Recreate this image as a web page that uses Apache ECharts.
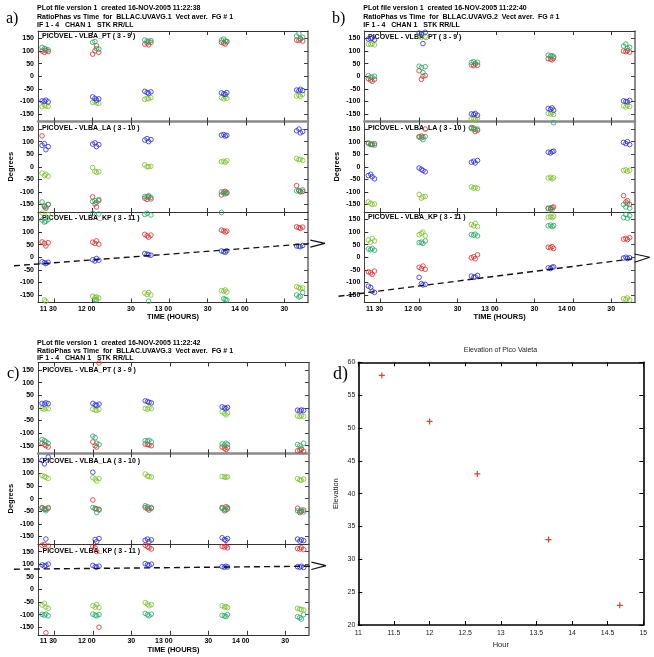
<!DOCTYPE html>
<html><head><meta charset="utf-8">
<script src="https://cdn.jsdelivr.net/npm/echarts@6/dist/echarts.min.js"></script>
<style>html,body{margin:0;padding:0;background:#fff}#c{width:654px;height:657px}</style>
</head><body><div id="c"></div><script>
// ---------------- DATA ----------------
const timeTicks = [11.5, 12, 12.5, 13, 13.5, 14, 14.5];
const timeTickLabels = ['11 30', '12 00', '30', '13 00', '30', '14 00', '30'];
const phaseTicks = [-150, -100, -50, 0, 50, 100, 150];
const baselineNames = ['PICOVEL - VLBA_PT ( 3 - 9 )', 'PICOVEL - VLBA_LA ( 3 - 10 )', 'PICOVEL - VLBA_KP ( 3 - 11 )'];
const headerA = ['PLot file version 1  created 16-NOV-2005 11:22:38', 'RatioPhas vs Time  for  BLLAC.UVAVG.1  Vect aver.  FG # 1', 'IF 1 - 4   CHAN 1   STK RR/LL'];
const headerB = ['PLot file version 1  created 16-NOV-2005 11:22:40', 'RatioPhas vs Time  for  BLLAC.UVAVG.2  Vect aver.  FG # 1', 'IF 1 - 4   CHAN 1   STK RR/LL'];
const headerC = ['PLot file version 1  created 16-NOV-2005 11:22:42', 'RatioPhas vs Time  for  BLLAC.UVAVG.3  Vect aver.  FG # 1', 'IF 1 - 4   CHAN 1   STK RR/LL'];

// sample times (hours) of the points in each of the five scans
const sampleTimes = [
  [11.34, 11.37, 11.39, 11.42],
  [12.00, 12.03, 12.05, 12.08],
  [12.68, 12.71, 12.73, 12.76],
  [13.68, 13.71, 13.73, 13.75],
  [14.66, 14.69, 14.71, 14.74]
];

// Panel a
const aPT_red  = [[100,95,102,98],[88,101,121,95],[128,132,125,135],[135,132,128,138],[144,142,148,140]];
const aPT_blue = [[-98,-100,-95,-102],[-82,-88,-95,-90],[-60,-65,-68,-62],[-66,-70,-72,-65],[-55,-58,-52,-57]];
const aPT_teal = [[115,110,108,105],[135,138,110,108],[144,140,138,142],[144,148,140,138],[160,170,150,155]];
const aPT_lg   = [[-121,-115,-118,-120],[-104,-100,-106,-108],[-92,-88,-90,-85],[-85,-90,-82,-88],[-78,-75,-80,-72]];
const aLA_red  = [[123,-158,-165,-150],[-120,-148,-160,-135],[-125,-130,-120,-128],[-112,-100,-98,-105],[-75,-95,-100,-98]];
const aLA_blue = [[85,92,68,80],[90,95,80,88],[106,112,100,108],[126,128,122,125],[143,150,135,140]];
const aLA_teal = [[-140,-155,-160,-150],[-138,-135,-142,-130],[-118,-120,-115,-122],[-100,-105,-108,-102],[-96,-94,-98,-92]];
const aLA_lg   = [[-25,-35,-30,-38],[-3,-18,-22,-20],[8,0,0,2],[20,22,18,24],[33,28,30,25]];
const aKP_red  = [[61,55,45,58],[60,55,65,52],[91,85,80,88],[108,105,100,104],[121,118,115,120]];
const aKP_blue = [[-18,-22,-25,-20],[-10,-15,-5,-12],[15,12,10,8],[25,22,20,26],[45,44,42,47]];
const aKP_teal = [[148,140,143,150],[175,-168,-170,172],[170,175,-175,168],[178,-165,-168,-170],[-150,-158,-155,-140]];
const aKP_lg   = [[176,-170,-175,170],[-155,-160,-158,-162],[-142,-148,-140,-150],[-133,-135,-130,-138],[-117,-120,-125,-122]];
// Panel b
const bPT_red  = [[-10,-15,-20,-12],[22,-12,0,3],[45,42,48,44],[70,68,65,72],[100,98,102,96]];
const bPT_blue = [[148,150,152,145],[172,168,130,175],[-150,-152,-148,-155],[-128,-132,-126,-135],[-98,-100,-102,-96]];
const bPT_teal = [[2,-3,-5,0],[40,35,15,38],[55,58,52,56],[84,80,82,78],[120,128,110,115]];
const bPT_lg   = [[128,126,130,125],[160,155,165,158],[-170,-168,-172,-166],[-148,-150,-145,-152],[-118,-122,-115,-120]];
const bLA_red  = [[93,90,88,92],[120,122,118,150],[156,150,140,145],[-165,-168,-162,-160],[-115,-140,-135,-150]];
const bLA_blue = [[-35,-30,-40,-48],[-5,-10,-15,-20],[18,22,15,25],[58,55,60,62],[97,92,100,88]];
const bLA_teal = [[95,88,90,86],[118,115,108,120],[152,155,148,150],[-166,-164,-170,175],[-150,-160,-145,-165]];
const bLA_lg   = [[-140,-145,-150,-148],[-110,-125,-120,-118],[-80,-85,-82,-86],[-45,-42,-48,-44],[-15,-12,-18,-14]];
const bKP_red  = [[-58,-62,-68,-55],[-40,-45,-35,-48],[-2,2,-6,10],[40,38,42,35],[72,75,70,78]];
const bKP_blue = [[-115,-120,-135,-140],[-80,-105,-110,-108],[-75,-80,-78,-72],[-42,-45,-40,-38],[-3,0,-5,-2]];
const bKP_teal = [[33,30,35,28],[58,60,55,65],[90,88,92,85],[125,128,122,126],[158,170,155,165]];
const bKP_lg   = [[69,60,75,65],[90,95,100,85],[130,125,135,122],[160,162,158,163],[-165,-168,-162,-170]];
// Panel c
const cPT_red  = [[-140,-145,-150,-155],[-135,-150,-155,178],[-143,-145,-147,-150],[-155,-160,-165,-158],[-170,-168,-165,-172]];
const cPT_blue = [[18,15,20,17],[18,12,10,15],[28,25,22,20],[4,0,-3,2],[-9,-12,-8,-10]];
const cPT_teal = [[-125,-130,-135,-140],[-112,-118,-140,-145],[-130,-132,-128,-135],[-143,-148,-140,-145],[-145,-150,-160,-140]];
const cPT_lg   = [[-2,-5,0,-3],[-5,-8,-10,-6],[-2,-5,0,-3],[-15,-22,-28,-20],[-32,-35,-30,-33]];
const cLA_red  = [[-35,-40,-42,-38],[-5,-38,-40,-42],[-35,-40,-45,-38],[-35,-48,-32,-40],[-38,-55,-50,-45]];
const cLA_blue = [[152,138,-160,165],[105,-162,-170,-158],[-165,-160,-170,-163],[-155,-162,-165,-158],[-160,-168,-163,-166]];
const cLA_teal = [[-38,-42,-48,-35],[-35,-40,-55,-45],[-28,-32,-38,-35],[-38,-42,-45,-35],[-48,-50,-45,-52]];
const cLA_lg   = [[92,88,85,80],[83,78,70,80],[98,90,88,86],[88,86,85,87],[80,75,73,78]];
const cKP_red  = [[175,178,-172,172],[170,165,150,-150],[175,170,165,160],[170,168,172,165],[162,160,165,158]];
const cKP_blue = [[97,92,95,100],[95,90,88,92],[102,98,95,100],[90,88,92,89],[90,88,92,87]];
const cKP_teal = [[-99,-102,-98,-105],[-98,-102,-105,-100],[-95,-100,-105,-98],[-103,-105,-108,-100],[-108,-112,-118,-100]];
const cKP_lg   = [[-62,-55,-70,-75],[-65,-70,-60,-72],[-52,-58,-65,-60],[-65,-70,-68,-72],[-75,-78,-80,-82]];

// hand-drawn dashed arrows (hours, degrees) on the KP panels
const arrowA = [[10.974, -34], [14.82, 54]];
const headA  = [[14.84, 68], [15.03, 55], [14.84, 40]];
const arrowB = [[10.952, -155], [14.82, -6]];
const headB  = [[14.84, 13], [15.04, 0], [14.84, -20]];
const arrowC = [[10.974, 80], [14.82, 92]];
const headC  = [[14.84, 108], [15.03, 94], [14.84, 79]];

// Panel d
const elevHours = [11.33, 12.0, 12.67, 13.67, 14.67];
const elevValues = [58, 51, 43, 33, 23];

// ---------------- LAYOUT / STYLE ----------------
const HOUR_MIN = 11.287, HOUR_MAX = 14.809;
const FONT = '"Liberation Sans", Arial, sans-serif';
const COL = { red: '#e02a2a', blue: '#2a2ae6', teal: '#22a866', lg: '#7cc22a' };
const layout = {
  a: { left: 38, width: 270, tops: [31, 121.5, 212], h: 90.5, labelX: 42, labelY: [35.7, 128.3, 218.3],
       hdr: headerA, hdrX: 37, hdrY: [8.3, 16.6, 24.8], letter: 'a)', letterX: 6, letterY: 19, letterSize: 16,
       phases: [[aPT_red, aPT_teal, aPT_lg, aPT_blue], [aLA_red, aLA_teal, aLA_lg, aLA_blue], [aKP_red, aKP_teal, aKP_lg, aKP_blue]],
       arrow: arrowA, head: headA },
  b: { left: 364.3, width: 270.7, tops: [31, 121.5, 212], h: 90.5, labelX: 368, labelY: [36.7, 128.3, 217.3],
       hdr: headerB, hdrX: 363.3, hdrY: [8.3, 16.6, 24.8], letter: 'b)', letterX: 332, letterY: 18.5, letterSize: 16,
       phases: [[bPT_red, bPT_teal, bPT_lg, bPT_blue], [bLA_red, bLA_teal, bLA_lg, bLA_blue], [bKP_red, bKP_teal, bKP_lg, bKP_blue]],
       arrow: arrowB, head: headB },
  c: { left: 38, width: 271, tops: [362.5, 453.3, 544], h: 90.8, labelX: 42.5, labelY: [370, 460.7, 550.7],
       hdr: headerC, hdrX: 37, hdrY: [343.3, 351, 358.5], letter: 'c)', letterX: 7, letterY: 373.5, letterSize: 16,
       phases: [[cPT_red, cPT_teal, cPT_lg, cPT_blue], [cLA_red, cLA_teal, cLA_lg, cLA_blue], [cKP_red, cKP_teal, cKP_lg, cKP_blue]],
       arrow: arrowC, head: headC }
};
const colorOrder = ['red', 'teal', 'lg', 'blue'];
const topLineStyles = [
  { color: '#333', width: 1 },
  { color: '#8a8a8a', width: 2.5 },
  { color: '#333', width: 1.2 }
];
const OVER_L = 30, OVER_R = 22; // extra pixels of the arrow overlay beyond the KP frame

const option = { animation: false, backgroundColor: '#fff', grid: [], xAxis: [], yAxis: [], series: [], graphic: [] };
const boldTxt = { fontFamily: FONT, fontWeight: 'bold', fontSize: 7, color: '#000' };

function timeLabel(v) {
  const i = timeTicks.findIndex(t => Math.abs(t - v) < 1e-6);
  if (i < 0) return '';
  const t = timeTickLabels[i];
  return t.length > 2 ? '{s|' + t + '}' : '{n|' + t + '}';
}

function addText(text, x, y, font, align, fill) {
  option.graphic.push({ type: 'text', x: x, y: y, silent: true,
    style: { text: text, font: font, textAlign: align || 'left', textVerticalAlign: 'middle', fill: fill || '#000' } });
}

['a', 'b', 'c'].forEach(pk => {
  const L = layout[pk];
  L.hdr.forEach((line, i) => addText(line, L.hdrX, L.hdrY[i], 'bold 7px ' + FONT));
  addText(L.letter, L.letterX, L.letterY, L.letterSize + 'px "Liberation Serif", "Times New Roman", serif');
  for (let s = 0; s < 3; s++) {
    const gi = option.grid.length;
    option.grid.push({ left: L.left, top: L.tops[s], width: L.width, height: L.h });
    const xb = option.xAxis.length;
    option.xAxis.push({
      type: 'value', gridIndex: gi, position: 'bottom', min: HOUR_MIN, max: HOUR_MAX,
      axisLine: { show: s === 2, onZero: false, lineStyle: { color: '#333', width: 1 } },
      axisTick: { show: true, inside: true, length: 4, customValues: timeTicks, lineStyle: { color: '#333', width: 1 } },
      axisLabel: { show: s === 2, customValues: timeTicks, margin: 3, formatter: timeLabel,
        rich: { s: Object.assign({ padding: [0, 12, 0, 0] }, boldTxt), n: Object.assign({}, boldTxt) } },
      splitLine: { show: false },
      name: s === 2 ? 'TIME (HOURS)' : '', nameLocation: 'middle', nameGap: 9.5,
      nameTextStyle: { fontFamily: FONT, fontWeight: 'bold', fontSize: 7.5, color: '#000' }
    });
    option.xAxis.push({
      type: 'value', gridIndex: gi, position: 'top', min: HOUR_MIN, max: HOUR_MAX,
      axisLine: { show: true, onZero: false, lineStyle: topLineStyles[s] },
      axisTick: { show: true, inside: true, length: 4, customValues: timeTicks, lineStyle: { color: '#333', width: 1 } },
      axisLabel: { show: false }, splitLine: { show: false }
    });
    const yl = option.yAxis.length;
    option.yAxis.push({
      type: 'value', gridIndex: gi, position: 'left', min: -180, max: 180,
      axisLine: { show: true, onZero: false, lineStyle: { color: '#444', width: 1 } },
      axisTick: { show: true, inside: true, length: 4, customValues: phaseTicks, lineStyle: { color: '#333', width: 1 } },
      axisLabel: Object.assign({ customValues: phaseTicks, margin: 4 }, boldTxt),
      splitLine: { show: false },
      name: s === 1 ? 'Degrees' : '', nameLocation: 'middle', nameGap: 23,
      nameTextStyle: { fontFamily: FONT, fontWeight: 'bold', fontSize: 7.5, color: '#000' }
    });
    option.yAxis.push({
      type: 'value', gridIndex: gi, position: 'right', min: -180, max: 180,
      axisLine: { show: true, onZero: false, lineStyle: { color: '#666', width: 1.5 } },
      axisTick: { show: true, inside: true, length: 4, customValues: phaseTicks, lineStyle: { color: '#444', width: 1 } },
      axisLabel: { show: false }, splitLine: { show: false }
    });
    L.phases[s].forEach((vals, ci) => {
      const data = [];
      vals.forEach((cluster, k) => cluster.forEach((v, j) => data.push([sampleTimes[k][j], v])));
      option.series.push({
        type: 'scatter', xAxisIndex: xb, yAxisIndex: yl, data: data,
        symbol: 'circle', symbolSize: 4.6, silent: true,
        itemStyle: { color: 'rgba(0,0,0,0)', borderColor: COL[colorOrder[ci]], borderWidth: 1 }
      });
    });
    addText(baselineNames[s], L.labelX, L.labelY[s], 'bold 7px ' + FONT);
    if (s === 2) {
      // wider, invisible coordinate system sharing the KP frame's scale, for the hand-drawn arrow
      const pph = L.width / (HOUR_MAX - HOUR_MIN);
      const og = option.grid.length;
      option.grid.push({ left: L.left - OVER_L, top: L.tops[s], width: L.width + OVER_L + OVER_R, height: L.h });
      const ox = option.xAxis.length;
      option.xAxis.push({ type: 'value', gridIndex: og, show: false,
        min: HOUR_MIN - OVER_L / pph, max: HOUR_MAX + OVER_R / pph });
      const oy = option.yAxis.length;
      option.yAxis.push({ type: 'value', gridIndex: og, show: false, min: -180, max: 180 });
      option.series.push({ type: 'line', xAxisIndex: ox, yAxisIndex: oy, data: L.arrow, symbol: 'none',
        silent: true, z: 5, lineStyle: { color: '#111', width: 1.4, type: [6, 4] } });
      option.series.push({ type: 'line', xAxisIndex: ox, yAxisIndex: oy, data: L.head, symbol: 'none',
        silent: true, z: 5, lineStyle: { color: '#111', width: 1.2 } });
    }
  }
});

// ---------------- Panel d ----------------
(function () {
  const gi = option.grid.length;
  option.grid.push({ left: 358.3, top: 362.3, width: 285, height: 262.7 });
  const thin = { fontFamily: '"Liberation Sans Narrow", "Liberation Sans", Arial, sans-serif', fontSize: 7, color: '#222' };
  const xb = option.xAxis.length;
  option.xAxis.push({
    type: 'value', gridIndex: gi, position: 'bottom', min: 11, max: 15, interval: 0.5,
    axisLine: { onZero: false, lineStyle: { color: '#000', width: 1.6 } },
    axisTick: { inside: true, length: 4, lineStyle: { color: '#000', width: 1 } },
    axisLabel: Object.assign({ margin: 5 }, thin), splitLine: { show: false },
    name: 'Hour', nameLocation: 'middle', nameGap: 16, nameTextStyle: Object.assign({}, thin, { fontSize: 7.5 })
  });
  option.xAxis.push({
    type: 'value', gridIndex: gi, position: 'top', min: 11, max: 15, interval: 0.5,
    axisLine: { onZero: false, lineStyle: { color: '#000', width: 1.6 } },
    axisTick: { inside: true, length: 4, lineStyle: { color: '#000', width: 1 } },
    axisLabel: { show: false }, splitLine: { show: false }
  });
  const yl = option.yAxis.length;
  option.yAxis.push({
    type: 'value', gridIndex: gi, position: 'left', min: 20, max: 60, interval: 5,
    axisLine: { onZero: false, lineStyle: { color: '#000', width: 1.6 } },
    axisTick: { inside: true, length: 4, lineStyle: { color: '#000', width: 1 } },
    axisLabel: Object.assign({ margin: 3 }, thin), splitLine: { show: false },
    name: 'Elevation', nameLocation: 'middle', nameGap: 18, nameTextStyle: Object.assign({}, thin, { fontSize: 7.5 })
  });
  option.yAxis.push({
    type: 'value', gridIndex: gi, position: 'right', min: 20, max: 60, interval: 5,
    axisLine: { onZero: false, lineStyle: { color: '#000', width: 1.6 } },
    axisTick: { inside: true, length: 4, lineStyle: { color: '#000', width: 1 } },
    axisLabel: { show: false }, splitLine: { show: false }
  });
  option.series.push({
    type: 'scatter', xAxisIndex: xb, yAxisIndex: yl,
    data: elevHours.map((h, i) => [h, elevValues[i]]),
    symbol: 'path://M4,0h2v4h4v2h-4v4h-2v-4h-4v-2h4z', symbolSize: 6, silent: true,
    itemStyle: { color: '#ff0000' }
  });
  addText('Elevation of Pico Valeta', 500.5, 350, '7px "Liberation Sans Narrow", "Liberation Sans", Arial, sans-serif', 'center', '#222');
  addText('d)', 333, 374.5, '18px "Liberation Serif", "Times New Roman", serif');
})();

const chart = echarts.init(document.getElementById('c'), null, { renderer: 'canvas', width: 654, height: 657 });
chart.setOption(option);
</script></body></html>
